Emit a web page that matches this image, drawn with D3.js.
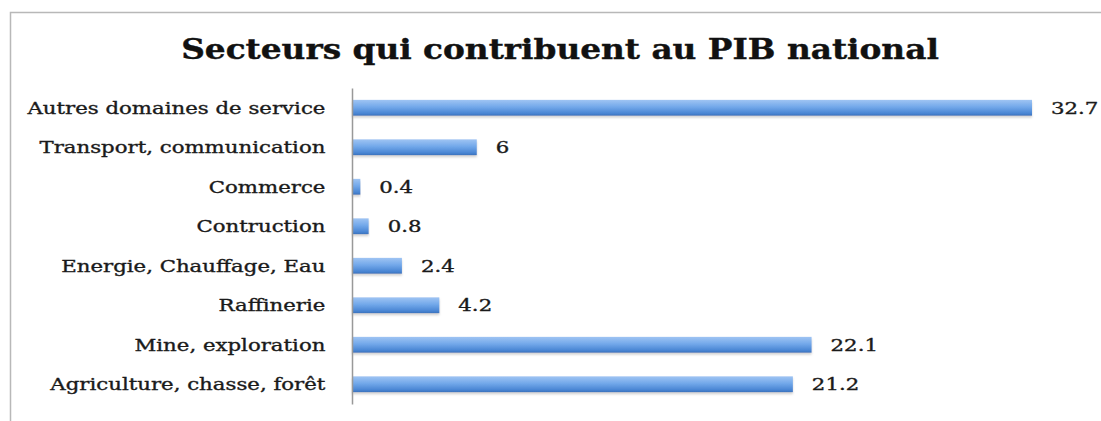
<!DOCTYPE html>
<html>
<head>
<meta charset="utf-8">
<script src="https://cdn.jsdelivr.net/npm/d3@7"></script>
<style>
  body { margin: 0; background: #fff; }
  svg { display: block; }
</style>
</head>
<body>
<svg id="canvas"></svg>
<script>
let categories = ["Autres domaines de service", "Transport, communication", "Commerce", "Contruction",
  "Energie, Chauffage, Eau", "Raffinerie", "Mine, exploration", "Agriculture, chasse, forêt"]
let values = [32.7, 6, 0.4, 0.8, 2.4, 4.2, 22.1, 21.2]
let valueLabels = ["32.7", "6", "0.4", "0.8", "2.4", "4.2", "22.1", "21.2"]

let width = 1101
let height = 421
let plotLeft = 352
let plotTop = 88
let plotBottom = 404
let stretch = 1.33   // the original text looks wider than DejaVu Serif

let svg = d3.select("#canvas")
  .attr("width", width)
  .attr("height", height)

// frame
svg.append("path")
  .attr("d", "M10.5," + height + "V12.5H" + width)
  .attr("fill", "none")
  .attr("stroke", "#b8b8b8")
  .attr("stroke-width", 1.5)

let defs = svg.append("defs")
let grad = defs.append("linearGradient")
  .attr("id", "barGrad")
  .attr("x1", 0).attr("y1", 0).attr("x2", 0).attr("y2", 1)
grad.append("stop").attr("offset", "0%").attr("stop-color", "#9fc4f3")
grad.append("stop").attr("offset", "45%").attr("stop-color", "#72a8ea")
grad.append("stop").attr("offset", "85%").attr("stop-color", "#4a86d4")
grad.append("stop").attr("offset", "100%").attr("stop-color", "#3a72bc")

let shadow = defs.append("filter").attr("id", "shadow")
  .attr("x", "-5%").attr("y", "-30%").attr("width", "110%").attr("height", "180%")
shadow.append("feDropShadow")
  .attr("dx", 0).attr("dy", 2).attr("stdDeviation", 1.2)
  .attr("flood-color", "#999").attr("flood-opacity", 0.45)

let xScale = d3.scaleLinear()
  .domain([0, 32.7])
  .range([plotLeft, 1032])

let yScale = d3.scaleBand()
  .domain(categories)
  .range([plotTop, plotBottom])
  .paddingInner(0.6)
  .paddingOuter(0.3)

svg.append("text")
  .attr("transform", "translate(560,59) scale(1.17,1)")
  .attr("text-anchor", "middle")
  .attr("font-family", "'DejaVu Serif', serif")
  .attr("font-weight", "bold")
  .attr("font-size", 28)
  .attr("fill", "#111")
  .attr("stroke", "#111")
  .attr("stroke-width", 0.4)
  .text("Secteurs qui contribuent au PIB national")

svg.selectAll("rect.bar")
  .data(values)
  .enter()
  .append("rect")
  .attr("class", "bar")
  .attr("x", xScale(0))
  .attr("y", (d, i) => yScale(categories[i]))
  .attr("width", d => xScale(d) - xScale(0))
  .attr("height", yScale.bandwidth())
  .attr("fill", "url(#barGrad)")
  .attr("filter", "url(#shadow)")

svg.selectAll("text.val")
  .data(values)
  .enter()
  .append("text")
  .attr("class", "val")
  .attr("transform", (d, i) => "translate(" + (xScale(d) + 19) + "," +
    (yScale(categories[i]) + yScale.bandwidth() / 2) + ") scale(" + stretch + ",1)")
  .attr("dy", "0.38em")
  .attr("font-family", "'DejaVu Serif', serif")
  .attr("font-size", 16)
  .attr("fill", "#1a1a1a")
  .attr("stroke", "#1a1a1a")
  .attr("stroke-width", 0.35)
  .text((d, i) => valueLabels[i])

let yAxis = d3.axisLeft(yScale).tickSize(0).tickPadding(20)
let gy = svg.append("g")
  .attr("transform", "translate(" + plotLeft + ",0)")
  .call(yAxis)
gy.select(".domain").attr("stroke", "#999").attr("stroke-width", 1.5)
gy.selectAll("text")
  .attr("transform", "scale(" + stretch + ",1)")
  .attr("dy", "0.38em")
  .attr("font-family", "'DejaVu Serif', serif")
  .attr("font-size", 16)
  .attr("fill", "#1a1a1a")
  .attr("stroke", "#1a1a1a")
  .attr("stroke-width", 0.35)
</script>
</body>
</html>
